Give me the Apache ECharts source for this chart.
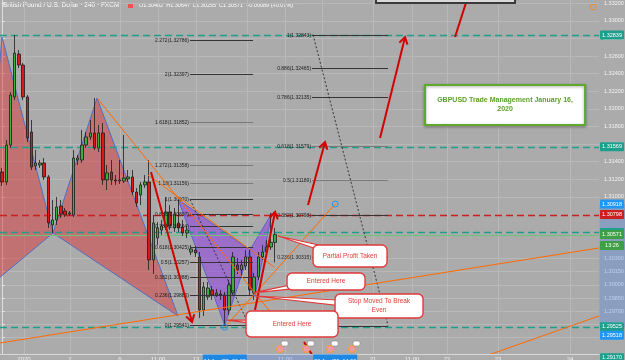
<!DOCTYPE html>
<html><head><meta charset="utf-8">
<script src="https://cdn.jsdelivr.net/npm/echarts@6/dist/echarts.min.js"></script>
<style>html,body{margin:0;padding:0;background:#ababab;overflow:hidden}#c{width:625px;height:360px}</style>
</head><body><div id="c"></div><script>
// ---------- candle data (4h bars, index = bar number) ----------
const opens  = [1.31282,1.31169,1.31589,1.32135,1.32623,1.32498,1.32135,1.31737,1.31351,1.31362,1.31385,1.31226,1.30680,1.30737,1.30896,1.30839,1.30805,1.30794,1.31419,1.31419,1.31589,1.31680,1.31726,1.31555,1.31726,1.31192,1.31282,1.31192,1.31180,1.31180,1.31203,1.31226,1.31055,1.31021,1.31135,1.31169,1.30283,1.30532,1.30623,1.30657,1.30828,1.30646,1.30703,1.30657,1.30589,1.30373,1.30396,1.30317,1.29714,1.29862,1.29942,1.29885,1.29896,1.29885,1.29714,1.29908,1.30226,1.30169,1.30214,1.30317,1.29908,1.30089,1.30317,1.30373,1.30430,1.30482];
const closes = [1.31169,1.31589,1.32157,1.32634,1.32498,1.32135,1.31669,1.31339,1.31385,1.31385,1.31226,1.30703,1.30737,1.30885,1.30805,1.30794,1.30817,1.31441,1.31441,1.31589,1.31680,1.31726,1.31555,1.31726,1.31192,1.31271,1.31192,1.31180,1.31192,1.31214,1.31226,1.31055,1.30930,1.31135,1.31169,1.30283,1.30703,1.30646,1.30669,1.30828,1.30669,1.30805,1.30646,1.30589,1.30623,1.30408,1.30362,1.29714,1.29976,1.29964,1.29885,1.29908,1.29885,1.29714,1.29998,1.30317,1.30169,1.30226,1.30317,1.29942,1.30089,1.30317,1.30373,1.30430,1.30482,1.30571];
const lows   = [1.31123,1.31135,1.31555,1.32100,1.32464,1.32100,1.31623,1.31305,1.31305,1.31328,1.31192,1.30646,1.30589,1.30680,1.30760,1.30771,1.30782,1.30771,1.31362,1.31385,1.31555,1.31646,1.31532,1.31510,1.31135,1.31078,1.31135,1.31135,1.31146,1.31157,1.31169,1.31021,1.30885,1.30907,1.31101,1.30169,1.30123,1.30453,1.30567,1.30623,1.30623,1.30601,1.30601,1.30555,1.30532,1.30339,1.30317,1.29624,1.29646,1.29828,1.29828,1.29862,1.29828,1.29541,1.29658,1.29873,1.30123,1.30101,1.30169,1.29873,1.29828,1.30055,1.30283,1.30339,1.30396,1.30255];
const highs  = [1.31328,1.31646,1.32191,1.32839,1.32669,1.32521,1.32157,1.31873,1.31532,1.31419,1.31441,1.31248,1.30964,1.30998,1.30964,1.30873,1.30839,1.31532,1.31476,1.31760,1.31737,1.31873,1.32123,1.31816,1.31839,1.31362,1.31419,1.31248,1.31419,1.31703,1.31305,1.31305,1.31101,1.31169,1.31248,1.31419,1.30794,1.30714,1.30737,1.30998,1.30907,1.30873,1.30970,1.30737,1.30669,1.30453,1.30442,1.30373,1.30033,1.30033,1.29987,1.29953,1.29942,1.29919,1.30055,1.30373,1.30305,1.30283,1.30396,1.30396,1.30135,1.30373,1.30453,1.30510,1.30817,1.30647];

// ---------- axes ----------
const priceTicks = [1.332,1.330,1.328,1.326,1.324,1.322,1.320,1.318,1.316,1.314,1.312,1.310,1.303,1.3015,1.300,1.2985,1.297,1.2955,1.294];
const timeTickIdx  = [5.21,16.17,28.07,37.12,46.17,58.31,67.36,76.17,88.31,97.6,105.93,118.07,135.21];
const timeTickText = ["2020","2","6","11:00","13","","11:00","","21","11:00","22","23","24"];

// ---------- horizontal levels ----------
const tealLevels = [1.32839, 1.31569, 1.30595, 1.29525];
const redLevels  = [1.30798];
const lastPrice  = closes[closes.length - 1];
const countdown  = "13:26";

// ---------- harmonic patterns X,A,B,C,D ----------
const redPatX = [-5.26, -0.02, 12.12, 22.6, 41.88];
const redPatP = [1.29896, 1.32816, 1.30589, 1.32123, 1.29646];
const purPatX = [41.9, 53, 59, 60.2, 64.26];
const purPatP = [1.30970, 1.29541, 1.30396, 1.29873, 1.30817];

// ---------- fibonacci ----------
const leftFibRatios = [0,0.236,0.382,0.5,0.618,0.786,0.886,1,1.13,1.272,1.618,2,2.272];
const leftFibPrices = [1.29541,1.29880,1.30088,1.30257,1.30425,1.30664,1.30807,1.30970,1.31156,1.31358,1.31852,1.32397,1.32786];
const leftFibSpan   = [44.74, 59.74];
const rightFibRatios = [0,0.236,0.382,0.5,0.618,0.786,0.886,1];
const rightFibPrices = [1.29535,1.30315,1.30798,1.31189,1.31579,1.32135,1.32465,1.32843];
const rightFibSpan   = [73.79, 91.88];

// ---------- trend lines [x1,p1,x2,p2] ----------
const trendLines = [
  [22.6, 1.32123, 64.26, 1.29669],
  [34.74, 1.31248, 64.74, 1.30203],
  [-0.5, 1.29339, 142.1, 1.30419],
  [113.79, 1.29169, 142.1, 1.29646]
];
const selectedLine = [53, 1.29518, 79.3, 1.30918];
const dottedLines = [
  [44.74, 1.30970, 58.79, 1.29541],
  [74.02, 1.32843, 91.88, 1.29535]
];
// ---------- red arrows [x1,p1,x2,p2,head] ----------
const arrows = [
  [35.45, 1.31282, 45.21, 1.29578, 1],
  [60.21, 1.29714, 64.98, 1.30828, 1],
  [72.83, 1.30907, 76.88, 1.31623, 1],
  [89.98, 1.31669, 95.93, 1.32816, 1],
  [107.83, 1.32816, 111.4, 1.33350, 0],
  [71.88, 1.29351, 74.26, 1.29169, 0]
];
// ---------- callouts ----------
const calloutText = ["Partial Profit Taken", "Entered Here", "Stop Moved To Break\nEven", "Entered Here"];
const calloutBox  = [[74.02,1.30453],[67.83,1.30135],[79.26,1.29896],[58.07,1.29703]];
const calloutTip  = [[65.69,1.30555],[59.74,1.29908],[60.21,1.29873],[53.5,1.29600]];
const noteText = "GBPUSD Trade Management January 16,\n2020";
const noteAnchor = [100.69, 1.32271];
const topBoxAnchor = [89.02, 1.33464];
const eventIdx = [66.2, 72.4, 78.1, 83.3];

// ---------- styles ----------
const calloutSize = [[74,22],[78,17],[88,24],[92,26]];
const TEAL = '#1e9e8c', RED = '#cc1f1f', BLUE = '#2196f3', GREEN = '#3f9f45';
const FONT = '"Liberation Sans", Arial, sans-serif';

const candleData = opens.map((o, i) => [i, o, closes[i], lows[i], highs[i]]);
const levelData = [
  ...tealLevels.map(v => [v, 0]),
  ...redLevels.map(v => [v, 1]),
  [lastPrice, 2]
];
const levelStyle = [
  {stroke: TEAL, lineWidth: 1.6, lineDash: [7,4]},
  {stroke: RED, lineWidth: 1.4, lineDash: [7,4]},
  {stroke: '#6fc27a', lineWidth: 1, lineDash: null}
];

function tris(xs, ps) {
  return [[xs[0],ps[0],xs[1],ps[1],xs[2],ps[2]],[xs[2],ps[2],xs[3],ps[3],xs[4],ps[4]]];
}
function patternSeries(xs, ps, fill, stroke) {
  return {
    type: 'custom', coordinateSystem: 'cartesian2d', z: 1, clip: true, silent: true,
    data: tris(xs, ps), encode: {x: [0,2,4], y: [1,3,5]},
    renderItem: (params, api) => {
      const pts = [0,1,2].map(k => api.coord([api.value(2*k), api.value(2*k+1)]));
      return {type: 'polygon', shape: {points: pts}, style: {fill: fill, stroke: stroke, lineWidth: 1}};
    }
  };
}
function fibSeries(ratios, prices, span, grayRatios) {
  return {
    type: 'custom', coordinateSystem: 'cartesian2d', z: 3, silent: true, clip: false,
    data: ratios.map((r, i) => [span[0], span[1], prices[i], r]),
    encode: {x: [0,1], y: 2},
    renderItem: (params, api) => {
      const a = api.coord([api.value(0), api.value(2)]);
      const b = api.coord([api.value(1), api.value(2)]);
      const r = api.value(3);
      const y = Math.round(a[1]) + 0.5;
      const gray = grayRatios.indexOf(r) >= 0;
      return {type: 'group', children: [
        {type: 'line', shape: {x1: a[0], y1: y, x2: b[0], y2: y}, style: {stroke: gray ? '#7a7a7a' : '#353535', lineWidth: 1}},
        {type: 'text', x: a[0] - 1, y: y, style: {text: r + '(' + api.value(2).toFixed(5) + ')', fill: '#1c1c1c', font: '5px ' + FONT, align: 'right', verticalAlign: 'middle'}}
      ]};
    }
  };
}
function segSeries(data, color, width, dash, z) {
  return {
    type: 'custom', coordinateSystem: 'cartesian2d', z: z, clip: true, silent: true,
    data: data, encode: {x: [0,2], y: [1,3]},
    renderItem: (params, api) => {
      const a = api.coord([api.value(0), api.value(1)]);
      const b = api.coord([api.value(2), api.value(3)]);
      return {type: 'line', shape: {x1: a[0], y1: a[1], x2: b[0], y2: b[1]}, style: {stroke: color, lineWidth: width, lineDash: dash}};
    }
  };
}

const option = {
  animation: false,
  backgroundColor: '#ababab',
  grid: {left: 0, right: 26, top: 0, bottom: 6, containLabel: false, outerBoundsMode: 'none'},
  xAxis: {
    type: 'value', min: -0.5, max: 142.1,
    axisLine: {show: true, lineStyle: {color: '#d8d8d8', width: 1}},
    axisTick: {show: false, customValues: timeTickIdx},
    splitLine: {show: true, lineStyle: {color: '#b8b8b8', width: 1}},
    axisLabel: {customValues: timeTickIdx, color: '#f2f2f2', fontSize: 6, margin: 2, fontFamily: FONT,
      formatter: v => { let k = 0, d = 1e9; timeTickIdx.forEach((t, i) => { if (Math.abs(t - v) < d) { d = Math.abs(t - v); k = i; } }); return timeTickText[k]; }}
  },
  yAxis: {
    type: 'value', position: 'right', min: 1.29214, max: 1.33237,
    axisLine: {show: true, lineStyle: {color: '#dedede', width: 1}},
    axisTick: {show: true, length: 3, lineStyle: {color: '#e0e0e0'}, customValues: priceTicks},
    splitLine: {show: true, lineStyle: {color: '#b8b8b8', width: 1}},
    axisLabel: {customValues: priceTicks, color: '#f4f4f4', fontSize: 5.5, margin: 5, fontFamily: FONT,
      formatter: v => v.toFixed(5)}
  },
  series: [
    patternSeries(redPatX, redPatP, 'rgba(215,55,55,0.5)', '#4f6fc4'),
    patternSeries(purPatX, purPatP, 'rgba(140,60,225,0.55)', '#5a64c8'),
    {
      type: 'custom', coordinateSystem: 'cartesian2d', z: 1, silent: true, clip: true,
      data: levelData, encode: {y: 0},
      renderItem: (params, api) => {
        const cs = params.coordSys;
        const y = Math.round(api.coord([0, api.value(0)])[1]) + 0.5;
        const st = levelStyle[api.value(1)];
        return {type: 'line', shape: {x1: cs.x, y1: y, x2: cs.x + cs.width, y2: y}, style: Object.assign({}, st)};
      }
    },
    {
      type: 'candlestick', z: 2, barWidth: 3, data: candleData,
      encode: {x: 0, y: [1,2,3,4]},
      itemStyle: {color: '#39b03e', color0: '#e01515', borderColor: '#1d1d1d', borderColor0: '#1d1d1d', borderWidth: 0.8}
    },
    fibSeries(leftFibRatios, leftFibPrices, leftFibSpan, [1.13,1.272,1.618]),
    fibSeries(rightFibRatios, rightFibPrices, rightFibSpan, [0.5,0.618]),
    segSeries(dottedLines, '#333333', 1, [2,2], 3),
    segSeries(trendLines, '#ff6a00', 1, null, 4),
    {
      type: 'custom', coordinateSystem: 'cartesian2d', z: 4, silent: true,
      data: [selectedLine], encode: {x: [0,2], y: [1,3]},
      renderItem: (params, api) => {
        const a = api.coord([api.value(0), api.value(1)]);
        const b = api.coord([api.value(2), api.value(3)]);
        return {type: 'group', children: [
          {type: 'line', shape: {x1: a[0], y1: a[1], x2: b[0], y2: b[1]}, style: {stroke: '#ff6a00', lineWidth: 1}},
          {type: 'circle', shape: {cx: a[0], cy: a[1], r: 3}, style: {fill: 'rgba(0,0,0,0)', stroke: BLUE, lineWidth: 1}},
          {type: 'circle', shape: {cx: b[0], cy: b[1], r: 3}, style: {fill: 'rgba(0,0,0,0)', stroke: BLUE, lineWidth: 1}}
        ]};
      }
    },
    {
      type: 'custom', coordinateSystem: 'cartesian2d', z: 5, clip: true, silent: true,
      data: arrows, encode: {x: [0,2], y: [1,3]},
      renderItem: (params, api) => {
        const a = api.coord([api.value(0), api.value(1)]);
        const b = api.coord([api.value(2), api.value(3)]);
        const ch = [{type: 'line', shape: {x1: a[0], y1: a[1], x2: b[0], y2: b[1]}, style: {stroke: '#d40000', lineWidth: 2}}];
        if (api.value(4)) {
          const ang = Math.atan2(b[1] - a[1], b[0] - a[0]), L = 8, w = 0.55;
          ch.push({type: 'polyline', shape: {points: [
            [b[0] - L * Math.cos(ang - w), b[1] - L * Math.sin(ang - w)], b,
            [b[0] - L * Math.cos(ang + w), b[1] - L * Math.sin(ang + w)]]},
            style: {stroke: '#d40000', lineWidth: 2, fill: null}});
        }
        return {type: 'group', children: ch};
      }
    },
    {
      type: 'custom', coordinateSystem: 'cartesian2d', z: 6, silent: true,
      data: calloutBox.map((b, i) => [b[0], b[1], calloutTip[i][0], calloutTip[i][1], i]),
      encode: {x: [0,2], y: [1,3]},
      renderItem: (params, api) => {
        const i = api.value(4);
        const p = api.coord([api.value(0), api.value(1)]);
        const t = api.coord([api.value(2), api.value(3)]);
        const w = calloutSize[i][0], h = calloutSize[i][1];
        const cx = p[0] + w / 2, cy = p[1] + h / 2;
        const dx = t[0] - cx, dy = t[1] - cy, len = Math.hypot(dx, dy) || 1;
        const nx = -dy / len * 4, ny = dx / len * 4;
        return {type: 'group', children: [
          {type: 'polygon', shape: {points: [t, [cx + nx, cy + ny], [cx - nx, cy - ny]]}, style: {fill: '#ffffff', stroke: '#e03a3a', lineWidth: 1.2}},
          {type: 'rect', shape: {x: p[0], y: p[1], width: w, height: h, r: 5}, style: {fill: '#ffffff', stroke: '#e03a3a', lineWidth: 1.4}},
          {type: 'text', x: cx, y: cy, style: {text: calloutText[i], fill: '#e53935', font: '6.5px ' + FONT, align: 'center', verticalAlign: 'middle', lineHeight: 9}}
        ]};
      }
    },
    {
      type: 'custom', coordinateSystem: 'cartesian2d', z: 6, silent: true,
      data: [[noteAnchor[0], noteAnchor[1]]],
      renderItem: (params, api) => {
        const p = api.coord([api.value(0), api.value(1)]);
        return {type: 'group', children: [
          {type: 'rect', shape: {x: p[0], y: p[1], width: 160, height: 40}, style: {fill: '#ffffff', stroke: '#5fa82c', lineWidth: 2, shadowBlur: 3, shadowColor: 'rgba(0,0,0,0.35)', shadowOffsetY: 1}},
          {type: 'text', x: p[0] + 80, y: p[1] + 20, style: {text: noteText, fill: '#5ca02a', font: 'bold 7px ' + FONT, align: 'center', verticalAlign: 'middle', lineHeight: 9}}
        ]};
      }
    },
    {
      type: 'custom', coordinateSystem: 'cartesian2d', z: 6, silent: true,
      data: [[topBoxAnchor[0], topBoxAnchor[1]]],
      renderItem: (params, api) => {
        const p = api.coord([api.value(0), api.value(1)]);
        return {type: 'rect', shape: {x: p[0], y: p[1], width: 139, height: 23}, style: {fill: '#d9d9d9', stroke: '#3a3a3a', lineWidth: 2}};
      }
    },
    {
      type: 'custom', coordinateSystem: 'cartesian2d', z: 6, silent: true,
      data: eventIdx.map(v => [v, 1.2935]),
      renderItem: (params, api) => {
        const p = api.coord([api.value(0), api.value(1)]);
        const cs = params.coordSys;
        const cy = cs.y + cs.height - 5;
        return {type: 'group', children: [
          {type: 'circle', shape: {cx: p[0], cy: cy, r: 3.5}, style: {fill: '#e89aa6', stroke: '#ff9a1f', lineWidth: 1}},
          {type: 'rect', shape: {x: p[0] + 1, y: cy - 8, width: 7, height: 5, r: 2}, style: {fill: '#ffffff', stroke: '#777', lineWidth: 0.5}}
        ]};
      }
    },
    // price axis tags, highlighted range
    {
      type: 'custom', coordinateSystem: 'cartesian2d', z: 8, silent: true, clip: false,
      data: [[selectedLine[0], selectedLine[1], selectedLine[2], selectedLine[3]]],
      encode: {x: [0,2], y: [1,3]},
      renderItem: (params, api) => {
        const cs = params.coordSys;
        const right = cs.x + cs.width, bottom = cs.y + cs.height;
        const a = api.coord([api.value(0), api.value(1)]);
        const b = api.coord([api.value(2), api.value(3)]);
        const ch = [];
        ch.push({type: 'rect', shape: {x: right + 0.5, y: b[1], width: 30, height: a[1] - b[1]}, style: {fill: 'rgba(70,130,235,0.32)'}});
        ch.push({type: 'rect', shape: {x: a[0], y: bottom + 0.5, width: b[0] - a[0], height: 10}, style: {fill: 'rgba(70,130,235,0.32)'}});
        const tag = (price, dy, color, text) => {
          const y = api.coord([0, price])[1] + dy;
          ch.push({type: 'rect', shape: {x: right + 1, y: y - 4.5, width: 24, height: 9, r: 1}, style: {fill: color}});
          ch.push({type: 'text', x: right + 13, y: y, style: {text: text, fill: '#ffffff', font: '5.5px ' + FONT, align: 'center', verticalAlign: 'middle'}});
        };
        tealLevels.forEach(v => tag(v, 0, TEAL, v.toFixed(5)));
        redLevels.forEach(v => tag(v, 0, RED, v.toFixed(5)));
        tag(api.value(3), 0, BLUE, api.value(3).toFixed(5));
        tag(api.value(1), 8, BLUE, api.value(1).toFixed(5));
        tag(lastPrice, 0, GREEN, lastPrice.toFixed(5));
        tag(lastPrice, 11, GREEN, countdown);
        tag(1.29170, 0, TEAL, '1.29170');
        const dateTag = (x, text) => {
          ch.push({type: 'rect', shape: {x: x - 22, y: bottom + 0.5, width: 44, height: 10}, style: {fill: '#1e88e5'}});
          ch.push({type: 'text', x: x, y: bottom + 4, style: {text: text, fill: '#ffffff', font: '5.5px ' + FONT, align: 'center', verticalAlign: 'top'}});
        };
        dateTag(a[0], "14 Jan '20  06:00");
        dateTag(b[0], "20 Jan '20  14:00");
        return {type: 'group', children: ch};
      }
    }
  ],
  graphic: [
    {type: 'text', left: 3, top: 2, style: {text: 'British Pound / U.S. Dollar · 240 · FXCM', fill: '#ffffff', font: '6.5px ' + FONT}},
    {type: 'rect', left: 128, top: 3, shape: {width: 5, height: 5}, style: {fill: '#ef5350'}},
    {type: 'text', left: 139, top: 2, style: {text:
      'O' + opens[opens.length-1].toFixed(5) + '  H' + highs[highs.length-1].toFixed(5) + '  L' + lows[lows.length-1].toFixed(5) + '  C' + lastPrice.toFixed(5) +
      '  +' + (lastPrice - closes[closes.length-2]).toFixed(5) + ' (+' + ((lastPrice - closes[closes.length-2]) / closes[closes.length-2] * 100).toFixed(2) + '%)',
      fill: '#ffffff', font: '5.5px ' + FONT}},
    {type: 'circle', shape: {cx: 593, cy: 7, r: 3}, style: {fill: 'none', stroke: '#f08a24', lineWidth: 1}}
  ]
};
const chart = echarts.init(document.getElementById('c'));
chart.setOption(option);
</script></body></html>
